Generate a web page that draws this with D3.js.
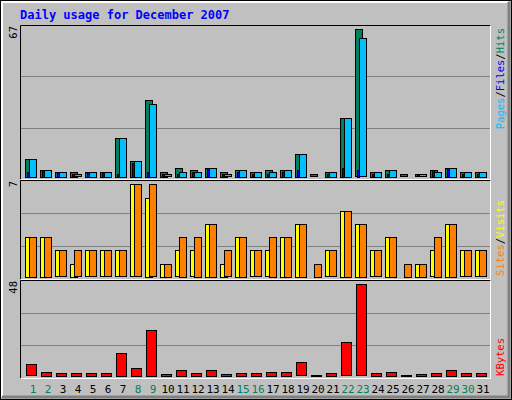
<!DOCTYPE html>
<html><head><meta charset="utf-8">
<script src="https://cdnjs.cloudflare.com/ajax/libs/d3/7.8.5/d3.min.js"></script>
<style>body{margin:0;background:#fff}</style></head>
<body><svg id="c" width="512" height="400"></svg>
<script>
const days = d3.range(1, 32);
const weekend = [1,2,8,9,15,16,22,23,29,30];
const hits  = [8,3,2,2,2,2,17,7,34,2,4,3,4,2,3,2,3,3,10,1,2,26,65,2,3,1,1,3,4,2,2];
const files = [8,3,2,1,2,2,17,7,32,1,2,2,4,1,3,2,2,3,10,0,2,26,61,2,3,0,1,2,4,2,2];
const pages = [2,3,2,1,2,2,1,6,2,1,1,2,4,1,2,1,1,2,3,0,1,4,3,1,1,0,1,3,4,1,1];
const visits= [3,3,2,1,2,2,2,7,6,1,2,2,4,1,3,2,2,3,4,0,2,5,4,2,3,0,1,2,4,2,2];
const sites = [3,3,2,2,2,2,2,7,7,1,3,3,4,2,3,2,3,3,4,1,2,5,4,2,3,1,1,3,4,2,2];
const kbytes= [6,2,1.5,1.5,1.5,1.5,12,4,24,1,3,1.5,3,1,1.5,1.5,2,2,7,0.4,1.5,17.5,48,1.5,2,0.4,1,1.5,3,1.5,1.5];

const svg = d3.select("#c");
const font = "'DejaVu Sans Mono', monospace";
svg.append("rect").attr("x",0).attr("y",0).attr("width",512).attr("height",400).attr("fill","#c0c0c0");
svg.append("rect").attr("x",0.5).attr("y",0.5).attr("width",511).attr("height",399).attr("fill","none").attr("stroke","#000");
svg.append("path").attr("d","M2,397V2H508").attr("fill","none").attr("stroke","#fff").attr("stroke-width",2);
svg.append("path").attr("d","M509,2V397H2").attr("fill","none").attr("stroke","#808080").attr("stroke-width",3);

svg.append("text").attr("x",20).attr("y",19).attr("fill","#0000ff").attr("font-family",font)
  .attr("font-weight","bold").attr("font-size",12).text("Daily usage for December 2007");

const x = d3.scaleLinear().domain([1,32]).range([25, 25+15*31]);

const panels = [
  {top:25, bot:179, base:176.7, ymaxPix:29.3, max:65},
  {top:180, bot:279, base:276.7, ymaxPix:184.3, max:7},
  {top:280, bot:378, base:375.7, ymaxPix:284.3, max:48}
];
panels.forEach(p=>{
  const h = p.bot - p.top;
  [1/3, 2/3].forEach(f=>{
    const gy = Math.round(p.bot - h*f) + 0.5;
    svg.append("line").attr("x1",21).attr("x2",490).attr("y1",gy).attr("y2",gy).attr("stroke","#808080");
  });
  svg.append("path").attr("d",`M20.5,${p.bot+0.5}V${p.top+0.5}H490.5`).attr("fill","none").attr("stroke","#000");
  svg.append("path").attr("d",`M490.5,${p.top+0.5}V${p.bot+0.5}H20.5`).attr("fill","none").attr("stroke","#fff");
  p.y = d3.scaleLinear().domain([0,p.max]).range([p.base, p.ymaxPix]);
});

function bars(data, p, dx, w, color){
  const pts = days.map((d,i)=>({d, v:data[i]})).filter(o=>o.v>0);
  svg.append("g").selectAll("rect").data(pts).join("rect")
    .attr("x", o=>x(o.d)+dx+0.5).attr("width", w)
    .attr("y", o=>Math.round(p.y(o.v))+0.5)
    .attr("height", o=>Math.max(1, Math.round(p.base - p.y(o.v))))
    .attr("fill", color).attr("stroke","#000");
}
bars(hits, panels[0], 0, 7, "#00805c");
bars(pages, panels[0], 2, 2, "#0000ff");
bars(files, panels[0], 4, 7, "#00c0ff");
bars(visits, panels[1], 0, 7, "#ffff00");
bars(sites, panels[1], 4, 7, "#ff8000");
bars(kbytes, panels[2], 1, 10, "#ff0000");

svg.append("g").selectAll("text").data(days).join("text")
  .attr("x", d=>x(d)+8).attr("y", 393).attr("text-anchor","middle")
  .attr("font-family",font).attr("font-size",11)
  .attr("fill", d=>weekend.includes(d) ? "#00805c" : "#000").text(d=>d);

function vtext(tx, ty, parts, anchor){
  const t = svg.append("text").attr("transform",`translate(${tx},${ty}) rotate(-90)`)
    .attr("font-family",font).attr("font-size",10.5).attr("text-anchor",anchor);
  parts.forEach(([s,c])=>t.append("tspan").attr("fill",c).text(s));
}
vtext(17, 26, [["67","#000"]], "end");
vtext(17, 181, [["7","#000"]], "end");
vtext(17, 281, [["48","#000"]], "end");
vtext(504, 28, [["Pages","#00c0ff"],["/","#000"],["Files","#0000ff"],["/","#000"],["Hits","#00805c"]], "end");
vtext(504, 200, [["Sites","#ff8000"],["/","#000"],["Visits","#ffff00"]], "end");
vtext(504, 338, [["KBytes","#ff0000"]], "end");
</script></body></html>
